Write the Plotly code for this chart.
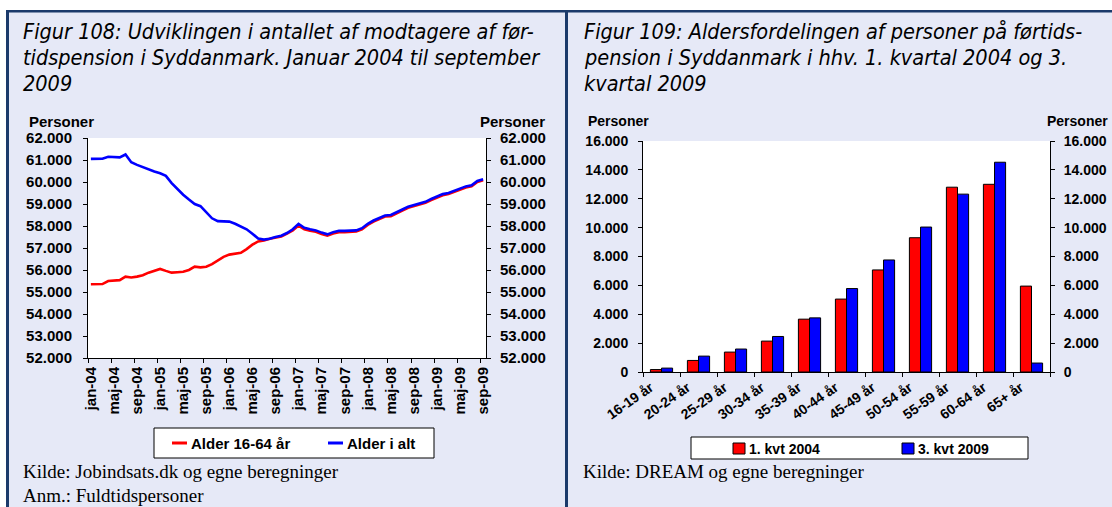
import plotly.graph_objects as go

W, H = 1112, 507

# ---- Figur 108: monthly recipients, Jan 2004 - Sep 2009 ----
month_abbr = ["jan", "feb", "mar", "apr", "maj", "jun", "jul", "aug", "sep", "okt", "nov", "dec"]
months = [f"{month_abbr[i % 12]}-{4 + i // 12:02d}" for i in range(69)]

alder_16_64 = [
    55350, 55350, 55360, 55500, 55510, 55540, 55700, 55660, 55700, 55760, 55880, 55960,
    56050, 55960, 55880, 55900, 55920, 56000, 56150, 56120, 56150, 56270, 56450, 56600,
    56700, 56750, 56780, 56950, 57150, 57300, 57340, 57420, 57480, 57520, 57650, 57800,
    58020, 57850, 57790, 57740, 57640, 57560, 57660, 57720, 57720, 57720, 57750, 57850,
    58050, 58200, 58300, 58430, 58450, 58590, 58700, 58830, 58900, 58950, 59050, 59180,
    59300, 59400, 59450, 59550, 59670, 59750, 59800, 60000, 60080,
]
alder_i_alt = [
    61050, 61040, 61060, 61150, 61130, 61120, 61250, 60900, 60780, 60670, 60560, 60480,
    60400, 60280, 59950, 59680, 59420, 59200, 59000, 58900, 58600, 58350, 58220, 58200,
    58200, 58100, 57980, 57850, 57650, 57430, 57380, 57420, 57500, 57560, 57680, 57850,
    58100, 57920, 57850, 57800, 57700, 57620, 57720, 57780, 57780, 57780, 57800, 57900,
    58100, 58250, 58350, 58480, 58500, 58640, 58750, 58880, 58950, 59000, 59100, 59230,
    59350, 59450, 59500, 59600, 59720, 59800, 59850, 60050, 60130,
]
line_names = ["Alder 16-64 år", "Alder i alt"]

# ---- Figur 109: age distribution ----
age_groups = ["16-19 år", "20-24 år", "25-29 år", "30-34 år", "35-39 år", "40-44 år",
              "45-49 år", "50-54 år", "55-59 år", "60-64 år", "65+ år"]
kvt_2004 = [170, 800, 1380, 2140, 3660, 5050, 7070, 9300, 12800, 13000, 5950]
kvt_2009 = [270, 1100, 1590, 2460, 3750, 5780, 7760, 10040, 12320, 14530, 620]
bar_names = ["1. kvt 2004", "3. kvt 2009"]

titles_left = ["Figur 108: Udviklingen i antallet af modtagere af før-",
               "tidspension i Syddanmark. Januar 2004 til september",
               "2009"]
titles_right = ["Figur 109: Aldersfordelingen af personer på førtids-",
                "pension i Syddanmark i hhv. 1. kvartal 2004 og 3.",
                "kvartal 2009"]

RED = "#FF0000"
BLUE = "#0000FF"
NAVY = "#1B3A6B"
PANEL = "#E6E9F7"
BOLD = "Arial, 'Liberation Sans', sans-serif"
NARROW = "'Liberation Sans Narrow', 'Arial Narrow', 'DejaVu Sans Condensed', sans-serif"
SERIF = "'Times New Roman', 'Liberation Serif', serif"


def px(x):
    return x / W


def py(y):
    return 1 - y / H


idx = list(range(len(months)))

fig = go.Figure()
fig.add_trace(go.Scatter(x=idx, y=alder_16_64, mode="lines", name=line_names[0],
                         line=dict(color=RED, width=2.6), xaxis="x", yaxis="y",
                         showlegend=False, hoverinfo="skip"))
fig.add_trace(go.Scatter(x=idx, y=alder_i_alt, mode="lines", name=line_names[1],
                         line=dict(color=BLUE, width=2.6), xaxis="x", yaxis="y",
                         showlegend=False, hoverinfo="skip"))
# carriers for the secondary axes (right value axis and boundary tick axis)
fig.add_trace(go.Scatter(x=idx, y=alder_i_alt, mode="lines", opacity=0, xaxis="x", yaxis="y2",
                         showlegend=False, hoverinfo="skip"))
fig.add_trace(go.Scatter(x=idx, y=alder_i_alt, mode="lines", opacity=0, xaxis="x3", yaxis="y",
                         showlegend=False, hoverinfo="skip"))

fig.add_trace(go.Bar(x=age_groups, y=kvt_2004, name=bar_names[0], marker_color=RED,
                     marker_line=dict(color="black", width=1), xaxis="x2", yaxis="y3",
                     showlegend=False, hoverinfo="skip"))
fig.add_trace(go.Bar(x=age_groups, y=kvt_2009, name=bar_names[1], marker_color=BLUE,
                     marker_line=dict(color="black", width=1), xaxis="x2", yaxis="y3",
                     showlegend=False, hoverinfo="skip"))
fig.add_trace(go.Scatter(x=age_groups, y=kvt_2009, mode="lines", opacity=0, xaxis="x2", yaxis="y4",
                         showlegend=False, hoverinfo="skip"))

axis_common = dict(showgrid=False, zeroline=False, showline=True, linecolor="black",
                   linewidth=1, ticks="outside", ticklen=4, tickcolor="black", tickwidth=1,
                   automargin=False)

xl = [px(88), px(486)]
yl = [py(358), py(138)]
xr = [px(643), px(1050)]
yr = [py(372), py(141)]

fig.update_layout(
    template="none",
    width=W, height=H,
    margin=dict(l=0, r=0, t=0, b=0, pad=0, autoexpand=False),
    paper_bgcolor=PANEL,
    plot_bgcolor="white",
    separators=",.",
    barmode="group", bargap=0.4, bargroupgap=0,
    showlegend=False,
    xaxis=dict(domain=xl, anchor="y", range=[-0.5, 68.5],
               tickmode="array", tickvals=idx[::4], ticktext=months[::4],
               tickangle=-90, showgrid=False, zeroline=False, showline=True,
               linecolor="black", linewidth=1, ticks="", automargin=False,
               ticklabelstandoff=2,
               tickfont=dict(family=BOLD, size=15, color="black", weight="bold")),
    xaxis3=dict(domain=xl, anchor="y", overlaying="x", range=[-0.5, 68.5],
                tickmode="array", tickvals=[i - 0.5 for i in idx[::4]],
                showticklabels=False, showgrid=False, zeroline=False, showline=False,
                ticks="outside", ticklen=4, tickcolor="black", automargin=False),
    yaxis=dict(domain=yl, anchor="x", range=[52000, 62000], dtick=1000, tickformat=",d",
               ticklabelstandoff=8,
               tickfont=dict(family=BOLD, size=15, color="black", weight="bold"), **axis_common),
    yaxis2=dict(domain=yl, anchor="x", overlaying="y", side="right", range=[52000, 62000],
                dtick=1000, tickformat=",d", ticklabelstandoff=6,
                tickfont=dict(family=BOLD, size=15, color="black", weight="bold"), **axis_common),
    xaxis2=dict(domain=xr, anchor="y3", type="category", tickson="boundaries",
                tickangle=-35, ticklabelshift=-11, ticklabelstandoff=1,
                tickfont=dict(family=BOLD, size=14, color="black", weight="bold"), **axis_common),
    yaxis3=dict(domain=yr, anchor="x2", range=[0, 16000], dtick=2000, tickformat=",d",
                ticklabelstandoff=7,
                tickfont=dict(family=BOLD, size=14, color="black", weight="bold"), **axis_common),
    yaxis4=dict(domain=yr, anchor="x2", overlaying="y3", side="right", range=[0, 16000],
                dtick=2000, tickformat=",d", ticklabelstandoff=6,
                tickfont=dict(family=BOLD, size=14, color="black", weight="bold"), **axis_common),
)

shapes = [
    # white margins around the framed panel
    dict(type="rect", xref="paper", yref="paper", x0=0, x1=1, y0=py(0), y1=py(10),
         fillcolor="white", line_width=0, layer="above"),
    dict(type="rect", xref="paper", yref="paper", x0=0, x1=px(6), y0=0, y1=1,
         fillcolor="white", line_width=0, layer="above"),
    # frame lines
    dict(type="rect", xref="paper", yref="paper", x0=px(6), x1=1, y0=py(12.5), y1=py(10),
         fillcolor=NAVY, line_width=0, layer="above"),
    dict(type="rect", xref="paper", yref="paper", x0=px(6), x1=px(9), y0=0, y1=py(10),
         fillcolor=NAVY, line_width=0, layer="above"),
    dict(type="rect", xref="paper", yref="paper", x0=px(565), x1=px(568), y0=0, y1=py(10),
         fillcolor=NAVY, line_width=0, layer="above"),
    # legend boxes
    dict(type="rect", xref="paper", yref="paper", x0=px(154), x1=px(434), y0=py(458), y1=py(428),
         fillcolor="white", line=dict(color="black", width=1), layer="above"),
    dict(type="rect", xref="paper", yref="paper", x0=px(691), x1=px(1028), y0=py(459), y1=py(437),
         fillcolor="white", line=dict(color="black", width=1), layer="above"),
    # legend swatches
    dict(type="line", xref="paper", yref="paper", x0=px(172), x1=px(187), y0=py(443), y1=py(443),
         line=dict(color=RED, width=3), layer="above"),
    dict(type="line", xref="paper", yref="paper", x0=px(328), x1=px(343), y0=py(443), y1=py(443),
         line=dict(color=BLUE, width=3), layer="above"),
    dict(type="rect", xref="paper", yref="paper", x0=px(733), x1=px(745), y0=py(454), y1=py(443),
         fillcolor=RED, line=dict(color="black", width=1), layer="above"),
    dict(type="rect", xref="paper", yref="paper", x0=px(902), x1=px(914), y0=py(454), y1=py(443),
         fillcolor=BLUE, line=dict(color="black", width=1), layer="above"),
]
fig.update_layout(shapes=shapes)

ann = []
for i, (tl, tr) in enumerate(zip(titles_left, titles_right)):
    yc = py(31.5 + 26 * i)
    ann.append(dict(text=tl, x=px(21), y=yc, xanchor="left", yanchor="middle",
                    font=dict(family=NARROW, size=21.5, color="black", style="italic")))
    ann.append(dict(text=tr, x=px(582), y=yc, xanchor="left", yanchor="middle",
                    font=dict(family=NARROW, size=21.5, color="black", style="italic")))

bold15 = dict(family=BOLD, size=15, color="black", weight="bold")
bold14 = dict(family=BOLD, size=14, color="black", weight="bold")
serif = dict(family=SERIF, size=19, color="black")
ann += [
    dict(text="Personer", x=px(27), y=py(121), xanchor="left", yanchor="middle", font=bold15),
    dict(text="Personer", x=px(547), y=py(121), xanchor="right", yanchor="middle", font=bold15),
    dict(text="Personer", x=px(586), y=py(121), xanchor="left", yanchor="middle", font=bold14),
    dict(text="Personer", x=px(1110), y=py(121), xanchor="right", yanchor="middle", font=bold14),
    dict(text=line_names[0], x=px(189), y=py(443), xanchor="left", yanchor="middle", font=bold15),
    dict(text=line_names[1], x=px(345), y=py(443), xanchor="left", yanchor="middle", font=bold15),
    dict(text=bar_names[0], x=px(747), y=py(448.5), xanchor="left", yanchor="middle", font=bold14),
    dict(text=bar_names[1], x=px(916), y=py(448.5), xanchor="left", yanchor="middle", font=bold14),
    dict(text="Kilde: Jobindsats.dk og egne beregninger", x=px(21), y=py(471),
         xanchor="left", yanchor="middle", font=serif),
    dict(text="Anm.: Fuldtidspersoner", x=px(21), y=py(495),
         xanchor="left", yanchor="middle", font=serif),
    dict(text="Kilde: DREAM og egne beregninger", x=px(581), y=py(471),
         xanchor="left", yanchor="middle", font=serif),
]
for a in ann:
    a.update(xref="paper", yref="paper", showarrow=False)
fig.update_layout(annotations=ann)

fig.write_html("out.html")
